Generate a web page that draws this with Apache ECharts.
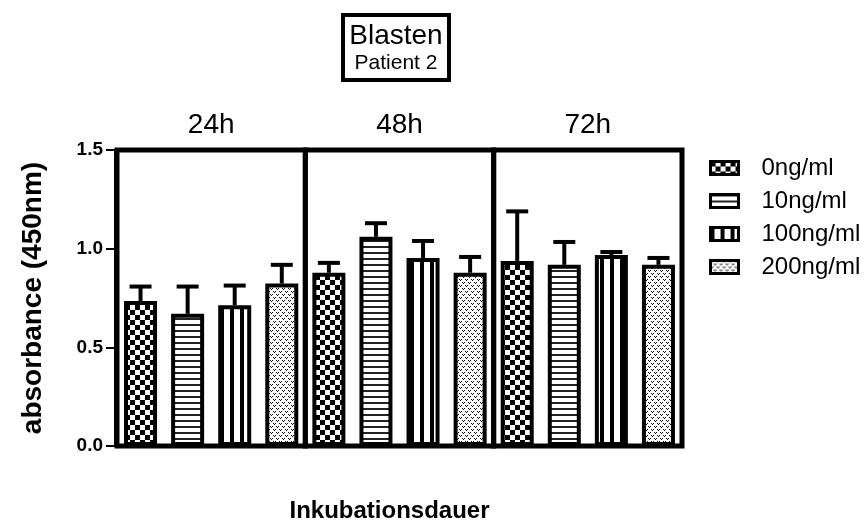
<!DOCTYPE html>
<html>
<head>
<meta charset="utf-8">
<script src="https://cdn.jsdelivr.net/npm/echarts@6/dist/echarts.min.js"></script>
<style>
html,body{margin:0;padding:0;background:#fff;}
#chart{width:867px;height:528px;}
</style>
</head>
<body>
<div id="chart"></div>
<script>
// ---- data ----
var groups = ['24h', '48h', '72h'];
var concentrations = ['0ng/ml', '10ng/ml', '100ng/ml', '200ng/ml'];
// mean absorbance per concentration across 24h, 48h, 72h
var mean0 = [0.735, 0.878, 0.938];
var mean10 = [0.670, 1.060, 0.918];
var mean100 = [0.713, 0.953, 0.968];
var mean200 = [0.823, 0.878, 0.918];
// upper error (SD) per concentration
var err0 = [0.073, 0.050, 0.251];
var err10 = [0.138, 0.069, 0.116];
var err100 = [0.100, 0.086, 0.015];
var err200 = [0.095, 0.080, 0.035];
var yTicks = [0, 0.5, 1.0, 1.5];
var titleText = 'Blasten';
var subTitleText = 'Patient 2';
var xName = 'Inkubationsdauer';
var yName = 'absorbance (450nm)';

var means = [mean0, mean10, mean100, mean200];
var errs = [err0, err10, err100, err200];

// ---- patterns ----
function makeTile(w, h, draw) {
  var c = document.createElement('canvas');
  c.width = w; c.height = h;
  var ctx = c.getContext('2d');
  ctx.fillStyle = '#fff';
  ctx.fillRect(0, 0, w, h);
  ctx.fillStyle = '#000';
  draw(ctx);
  return { image: c, repeat: 'repeat' };
}
var patChecker = makeTile(10, 10, function (ctx) {
  ctx.fillRect(0, 0, 5, 5); ctx.fillRect(5, 5, 5, 5);
});
var patHStripe = makeTile(6, 6, function (ctx) {
  ctx.fillStyle = '#222';
  ctx.fillRect(0, 0, 6, 2);
});
var patVStripe = makeTile(10, 10, function (ctx) {
  ctx.fillRect(0, 0, 4, 10);
});
var patDots = makeTile(6, 6, function (ctx) {
  ctx.fillStyle = '#111';
  ctx.fillRect(0, 0, 1, 1); ctx.fillRect(2, 0, 1, 1); ctx.fillRect(1, 1, 1, 1);
  ctx.fillRect(3, 3, 1, 1); ctx.fillRect(5, 3, 1, 1); ctx.fillRect(4, 4, 1, 1);
});
var patterns = [patChecker, patHStripe, patVStripe, patDots];

// ---- build ----
var categories = [];
groups.forEach(function (g) {
  concentrations.forEach(function (c) { categories.push(g + ' ' + c); });
});
var nC = concentrations.length;
var yMax = yTicks[yTicks.length - 1];
var font = 'Liberation Sans, Arial, sans-serif';

var barSeries = concentrations.map(function (c, k) {
  return {
    name: c,
    type: 'bar',
    barWidth: 33,
    barGap: '-100%',
    z: 2,
    itemStyle: { color: patterns[k], borderColor: '#000', borderWidth: 4 },
    data: groups.map(function (g, gi) { return [categories[gi * nC + k], means[k][gi]]; })
  };
});

var errData = [];
groups.forEach(function (g, gi) {
  concentrations.forEach(function (c, k) {
    errData.push([gi * nC + k, means[k][gi], errs[k][gi]]);
  });
});

var boxData = groups.map(function (g, gi) { return [gi * nC, 0, gi * nC + nC - 1]; });

var option = {
  animation: false,
  backgroundColor: '#fff',
  title: {
    text: titleText,
    subtext: subTitleText,
    left: 389,
    top: 15,
    textAlign: 'center',
    padding: [7, 7, 6, 7],
    itemGap: 3,
    borderColor: '#000',
    borderWidth: 4,
    textStyle: { fontFamily: font, fontSize: 28, fontWeight: 'normal', color: '#000' },
    subtextStyle: { fontFamily: font, fontSize: 21, color: '#000' }
  },
  legend: {
    orient: 'vertical',
    left: 704,
    top: 151,
    itemWidth: 28,
    itemHeight: 13,
    itemGap: 9,
    icon: 'rect',
    data: concentrations,
    itemStyle: { borderWidth: 3, borderColor: '#000' },
    textStyle: { fontFamily: font, fontSize: 24, color: '#000', padding: [0, 0, 0, 18] }
  },
  grid: { left: 117, right: 185, top: 150, bottom: 81 },
  xAxis: {
    type: 'category',
    data: categories,
    name: xName,
    nameLocation: 'middle',
    nameGap: 53,
    nameTextStyle: { fontFamily: font, fontSize: 24, fontWeight: 'bold', color: '#000', padding: [0, 20, 0, 0] },
    axisLine: { lineStyle: { color: '#000', width: 2 } },
    axisTick: { alignWithLabel: true, length: 8, lineStyle: { color: '#000', width: 2 } },
    axisLabel: { show: false },
    splitLine: { show: false }
  },
  yAxis: {
    type: 'value',
    min: 0,
    max: yMax,
    interval: 0.5,
    offset: 2,
    name: yName,
    nameLocation: 'middle',
    nameGap: 68,
    nameTextStyle: { fontFamily: font, fontSize: 28, fontWeight: 'bold', color: '#000' },
    axisLine: { show: true, lineStyle: { color: '#000', width: 2 } },
    axisTick: { show: true, length: 9, lineStyle: { color: '#000', width: 2 } },
    axisLabel: {
      margin: 12,
      fontFamily: font, fontSize: 19, fontWeight: 'bold', color: '#000',
      formatter: function (v) { return v.toFixed(1); }
    },
    splitLine: { show: false }
  },
  series: barSeries.concat([
    {
      name: 'errors',
      type: 'custom',
      z: 3,
      encode: { x: 0, y: 1 },
      data: errData,
      renderItem: function (params, api) {
        var x = api.value(0), m = api.value(1), e = api.value(2);
        var base = api.coord([x, m]);
        var top = api.coord([x, m + e]);
        return {
          type: 'group',
          children: [
            { type: 'line', shape: { x1: base[0], y1: base[1], x2: top[0], y2: top[1] }, style: { stroke: '#000', lineWidth: 4 } },
            { type: 'line', shape: { x1: top[0] - 11, y1: top[1], x2: top[0] + 11, y2: top[1] }, style: { stroke: '#000', lineWidth: 4 } }
          ]
        };
      }
    },
    {
      name: 'boxes',
      type: 'custom',
      z: 4,
      encode: { x: 0, y: 1 },
      data: boxData,
      renderItem: function (params, api) {
        var bw = api.size([1, 0])[0];
        var p0 = api.coord([api.value(0), yMax]);
        var p1 = api.coord([api.value(2), 0]);
        var x0 = p0[0] - bw / 2, x1 = p1[0] + bw / 2;
        return {
          type: 'group',
          children: [
            { type: 'rect', shape: { x: x0, y: p0[1], width: x1 - x0, height: p1[1] - p0[1] },
              style: { fill: 'none', stroke: '#000', lineWidth: 5 } },
            { type: 'text', x: (x0 + x1) / 2, y: p0[1] - 11,
              style: { text: groups[params.dataIndex], font: '28px ' + font, fill: '#000', align: 'center', verticalAlign: 'bottom' } }
          ]
        };
      }
    }
  ])
};

var chart = echarts.init(document.getElementById('chart'), null, { renderer: 'canvas' });
chart.setOption(option);
</script>
</body>
</html>
